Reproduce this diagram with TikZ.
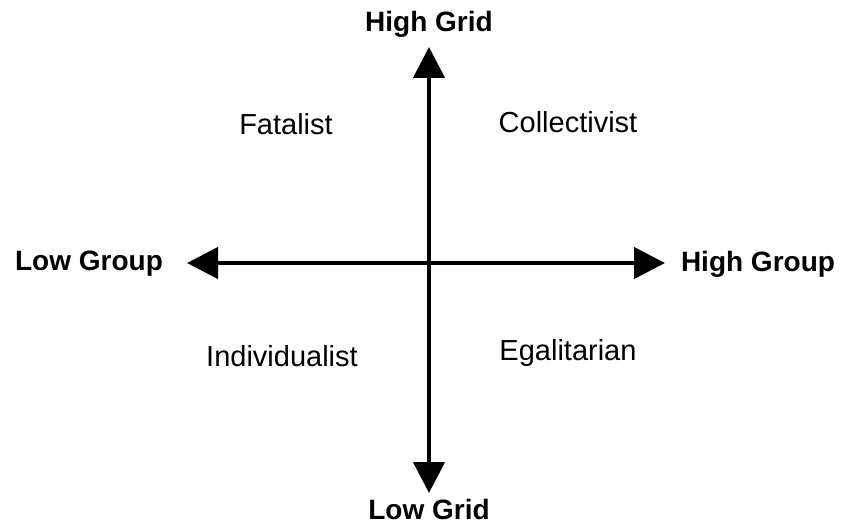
\documentclass[tikz,border=0pt]{standalone}
\usepackage{fontspec}
\setmainfont{Liberation Sans}
\usetikzlibrary{arrows.meta}
\begin{document}
\begin{tikzpicture}[x=1pt,y=-1pt,
  axis/.style={line width=4.5pt,-{Triangle[length=31pt,width=31pt]}},
  bold/.style={font=\fontsize{28}{32}\selectfont\bfseries},
  quad/.style={font=\fontsize{29}{33}\selectfont}]
\useasboundingbox (0,0) rectangle (846,524);
\coordinate (c) at (429,263);
\coordinate (top) at (429,47);
\coordinate (bot) at (429,493);
\coordinate (lft) at (187,263);
\coordinate (rgt) at (665,263);
\draw[axis] (c) -- (top);
\draw[axis] (c) -- (bot);
\draw[axis] (c) -- (lft);
\draw[axis] (c) -- (rgt);
\node[bold] (hg) at (429,24) {High Grid};
\node[bold] (lg) at (429,509) {Low Grid};
\node[bold] (lgr) at (89,264) {Low Group};
\node[bold] (hgr) at (758,264) {High Group};
\node[quad] (fat) at (286,124) {Fatalist};
\node[quad] (col) at (568,122) {Collectivist};
\node[quad] (ind) at (282,356) {Individualist};
\node[quad] (ega) at (568,353) {Egalitarian};
\end{tikzpicture}
\end{document}
